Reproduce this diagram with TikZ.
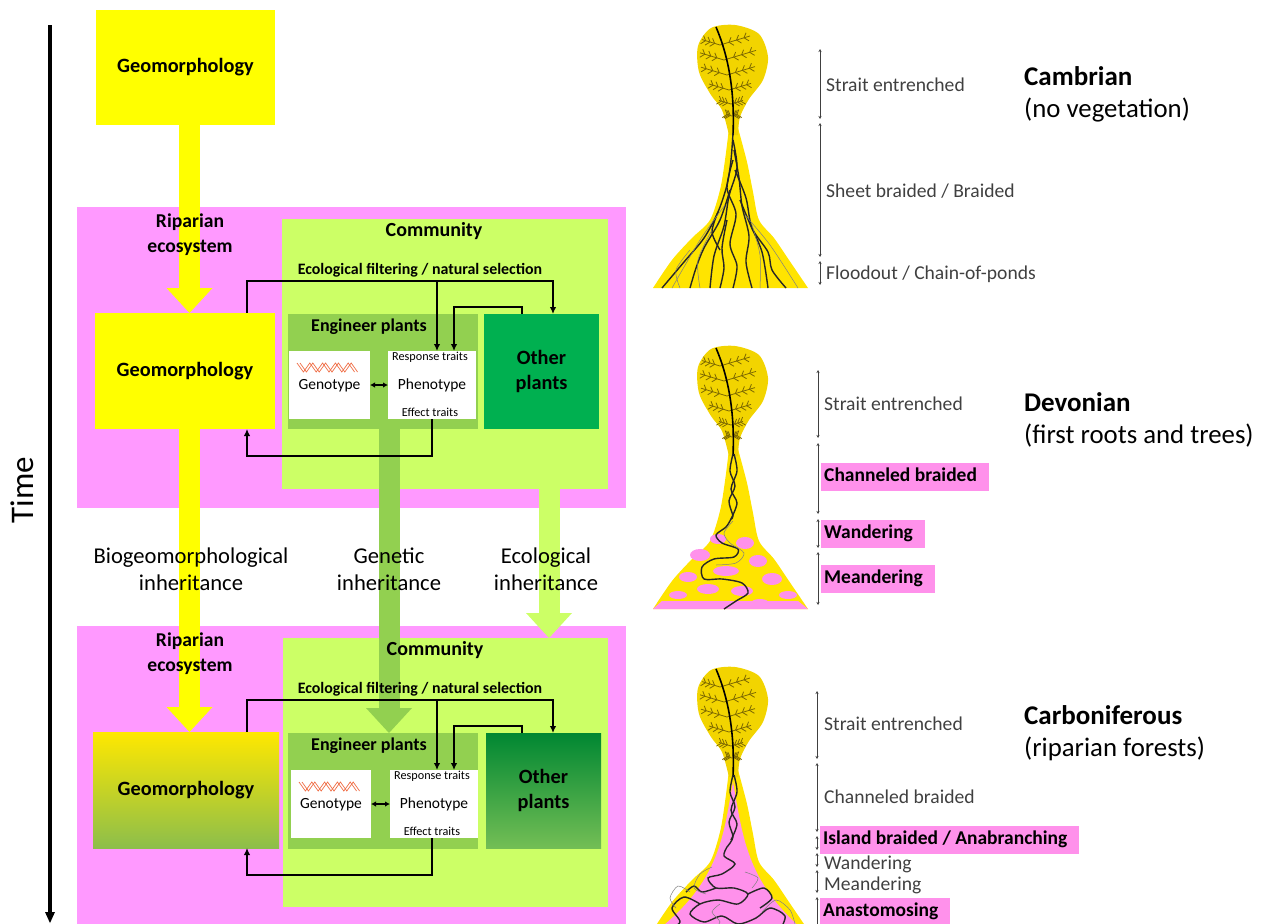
\documentclass[tikz,border=0pt]{standalone}
\usepackage{fontspec}
\setmainfont{Carlito}
\usetikzlibrary{arrows.meta,calc}

\definecolor{geoyel}{RGB}{255,255,0}
\definecolor{ripink}{RGB}{255,153,255}
\definecolor{comgrn}{RGB}{204,255,102}
\definecolor{enggrn}{RGB}{146,208,80}
\definecolor{othgrn}{RGB}{0,176,80}
\definecolor{hlpink}{RGB}{255,145,235}
\definecolor{fanyel}{RGB}{255,228,0}
\definecolor{headyel}{RGB}{242,212,0}
\definecolor{frondc}{RGB}{125,105,0}
\definecolor{txtgray}{RGB}{64,64,64}
\definecolor{dnac}{RGB}{240,110,70}
\definecolor{geotop}{RGB}{255,232,0}
\definecolor{geomid}{RGB}{200,212,0}
\definecolor{geobot}{RGB}{140,190,75}
\definecolor{othtop}{RGB}{0,135,50}
\definecolor{othmid}{RGB}{0,172,72}
\definecolor{othbot}{RGB}{115,190,85}

\pgfdeclarelayer{bg}
\pgfdeclarelayer{arr}
\pgfsetlayers{bg,arr,main}

\begin{document}
\begin{tikzpicture}[x=1pt,y=-1pt,
    box/.style={inner sep=0pt,outer sep=0pt},
    bigb/.style={font=\fontsize{20.3}{25}\selectfont\bfseries,align=center},
    midb/.style={font=\fontsize{19.6}{25}\selectfont\bfseries,align=center},
    selb/.style={font=\fontsize{15.9}{18}\selectfont\bfseries},
    gp/.style={box,fill=white},
    gpt/.style={font=\fontsize{15.5}{18}\selectfont},
    trait/.style={font=\fontsize{12.2}{14}\selectfont},
    inh/.style={font=\fontsize{22.6}{27}\selectfont,align=center},
    conn/.style={line width=1.8pt,-{Latex[length=7pt,width=6.5pt]}},
    fat/.style={line width=21pt,draw=#1,-{Triangle[length=25pt,width=46pt,line width=0pt]}},
    rlab/.style={anchor=base west,text=txtgray,font=\fontsize{19.6}{22}\selectfont,inner sep=0pt},
    hl/.style={anchor=west,fill=hlpink,inner xsep=3pt,inner ysep=0pt,minimum height=28pt,text height=12.5pt,text depth=3.5pt,font=\fontsize{19.5}{22}\selectfont\bfseries,execute at end node=\hspace*{9pt}},
    era/.style={anchor=base west,inner sep=0pt,font=\fontsize{27}{32}\selectfont\bfseries},
    erasub/.style={anchor=base west,inner sep=0pt,font=\fontsize{26.8}{32}\selectfont},
    sbar/.style={draw=txtgray,line width=0.9pt,{Stealth[length=3pt,width=3pt]}-{Stealth[length=3pt,width=3pt]}},
    riv/.style={line width=1.4pt,black!85},
    rivthin/.style={line width=0.5pt,black!50},
    frd/.style={line width=0.8pt,frondc},
    dna/.style={line width=0.7pt,dnac}]
\useasboundingbox (0,0) rectangle (1262,924);

% time axis
\draw[line width=3.5pt,-{Triangle[length=11pt,width=10pt,line width=0pt]}] (50,25) -- (50,923);
\node[rotate=90,font=\fontsize{33}{36}\selectfont] (time) at (22,490) {Time};

% ecosystems and communities
\begin{pgfonlayer}{bg}
\node[box,fill=ripink,minimum width=549pt,minimum height=301pt] (rip1) at (351.5,357.5) {};
\node[box,fill=comgrn,minimum width=326pt,minimum height=270pt] (com1) at (445,354) {};
\node[box,fill=ripink,minimum width=549pt,minimum height=300pt] (rip2) at (351.5,776) {};
\node[box,fill=comgrn,minimum width=325pt,minimum height=269pt] (com2) at (445.5,772.5) {};
\end{pgfonlayer}

\node[box,bigb,fill=geoyel,minimum width=179pt,minimum height=115pt] (geo0) at (185.5,67.5) {Geomorphology};

% first ecosystem
\node[box,bigb,fill=geoyel,minimum width=180pt,minimum height=116pt] (geo1) at (185,371) {Geomorphology};
\node[box,fill=enggrn,minimum width=190pt,minimum height=115pt] (eng1) at (383,371.5) {};
\node[box,bigb,fill=othgrn,minimum width=115pt,minimum height=115pt] (oth1) at (541.5,371.5) {Other\\plants};
\node[gp,minimum width=81pt,minimum height=68pt] (gen1) at (329.5,385) {};
\node[gp,minimum width=88pt,minimum height=68pt] (phe1) at (432,385) {};
\node[midb] (rt1) at (190,235) {Riparian\\ecosystem};
\node[midb,anchor=base,font=\fontsize{20}{25}\selectfont\bfseries] (ct1) at (434,236) {Community};
\node[selb,anchor=base] (ft1) at (420,274.5) {Ecological filtering / natural selection};
\node[midb,anchor=base,font=\fontsize{18}{22}\selectfont\bfseries] (et1) at (369,331) {Engineer plants};
\node[trait,anchor=base] (rs1) at (430,360.5) {Response traits};
\node[gpt,anchor=base] (pt1) at (432,389) {Phenotype};
\node[trait,anchor=base] (ef1) at (430,416.5) {Effect traits};
\node[gpt,anchor=base] (gt1) at (329.5,389) {Genotype};
\draw[dna] (297,363) \foreach \i in {1,...,9}{ -- ({297+6.4*\i},{363+9*mod(\i,2)}) };
\draw[dna] (300,363) \foreach \i in {1,...,9}{ -- ({300+6.4*\i},{363+9*mod(\i,2)}) };

% second ecosystem
\node[box,bigb,top color=geotop,middle color=geomid,bottom color=geobot,minimum width=186pt,minimum height=116pt] (geo2) at (186,790) {Geomorphology};
\node[box,fill=enggrn,minimum width=190pt,minimum height=116pt] (eng2) at (383,791) {};
\node[box,bigb,top color=othtop,middle color=othmid,bottom color=othbot,minimum width=115pt,minimum height=115pt] (oth2) at (543.5,790.5) {Other\\plants};
\node[gp,minimum width=80pt,minimum height=68pt] (gen2) at (331,804) {};
\node[gp,minimum width=88pt,minimum height=68pt] (phe2) at (434,804) {};
\node[midb] (rt2) at (190,654) {Riparian\\ecosystem};
\node[midb,anchor=base,font=\fontsize{20}{25}\selectfont\bfseries] (ct2) at (435,655) {Community};
\node[selb,anchor=base] (ft2) at (420,693.5) {Ecological filtering / natural selection};
\node[midb,anchor=base,font=\fontsize{18}{22}\selectfont\bfseries] (et2) at (369,750) {Engineer plants};
\node[trait,anchor=base] (rs2) at (432,779.5) {Response traits};
\node[gpt,anchor=base] (pt2) at (434,808) {Phenotype};
\node[trait,anchor=base] (ef2) at (432,835.5) {Effect traits};
\node[gpt,anchor=base] (gt2) at (331,808) {Genotype};
\draw[dna] (299,782) \foreach \i in {1,...,9}{ -- ({299+6.4*\i},{782+9*mod(\i,2)}) };
\draw[dna] (302,782) \foreach \i in {1,...,9}{ -- ({302+6.4*\i},{782+9*mod(\i,2)}) };

% inheritance
\coordinate (ybar) at (189.5,0);
\coordinate (gbar) at (389,0);
\coordinate (ebar) at (549,0);
\begin{pgfonlayer}{arr}
\draw[fat=geoyel] (geo0.south -| ybar) -- (geo1.north -| ybar);
\draw[fat=geoyel] (geo1.south -| ybar) -- (geo2.north -| ybar);
\draw[fat=enggrn] (eng1.south -| gbar) -- (eng2.north -| gbar);
\draw[fat=comgrn] (com1.south -| ebar) -- (com2.north -| ebar);
\end{pgfonlayer}
\node[inh] (bio) at (191,569) {Biogeomorphological\\inheritance};
\node[inh] (gin) at (389,569) {Genetic\\inheritance};
\node[inh] (ein) at (546,569) {Ecological\\inheritance};

% feedback loops
\coordinate (a1) at (247,281); \coordinate (b1) at (553,281); \coordinate (c1) at (437,281);
\coordinate (d1) at (522,307); \coordinate (e1) at (454,307);
\coordinate (f1) at (432,456); \coordinate (g1) at (247,456);
\draw[conn] (geo1.north -| a1) -- (a1) -- (b1) -- (oth1.north -| b1);
\draw[conn] (c1) -- (phe1.north -| c1);
\draw[conn] (oth1.north -| d1) -- (d1) -- (e1) -- (phe1.north -| e1);
\draw[conn] (phe1.south -| f1) -- (f1) -- (g1) -- (geo1.south -| g1);
\draw[line width=1.8pt,{Latex[length=5pt,width=5.5pt]}-{Latex[length=5pt,width=5.5pt]}] (gen1) -- (phe1);

\coordinate (a2) at (247,700); \coordinate (b2) at (553,700); \coordinate (c2) at (437,700);
\coordinate (d2) at (522,726); \coordinate (e2) at (454,726);
\coordinate (f2) at (432,875); \coordinate (g2) at (247,875);
\draw[conn] (geo2.north -| a2) -- (a2) -- (b2) -- (oth2.north -| b2);
\draw[conn] (c2) -- (phe2.north -| c2);
\draw[conn] (oth2.north -| d2) -- (d2) -- (e2) -- (phe2.north -| e2);
\draw[conn] (phe2.south -| f2) -- (f2) -- (g2) -- (geo2.south -| g2);
\draw[line width=1.8pt,{Latex[length=5pt,width=5.5pt]}-{Latex[length=5pt,width=5.5pt]}] (gen2) -- (phe2);

% river profiles
\foreach \dy in {0,321,642}{
  \begin{scope}[yshift=-\dy pt]
    \fill[fanyel] plot[smooth] coordinates {(729,128) (725,160) (720,190) (710,220) (692,238) (672,260) (653,288)} -- (808,288) -- plot[smooth] coordinates {(808,288) (789,260) (774,238) (759,220) (753,192) (747,162) (738,128)} -- cycle;
    \fill[headyel] plot[smooth] coordinates {(729,135) (722,110) (711,95) (699,72) (698,46) (711,28) (735,25) (759,34) (768,57) (763,80) (749,99) (740,117) (738,135)} -- cycle;
    \foreach \yy/\tx/\ll/\rr in {45/720/18/30,60/724/24/32,75/727/26/28,90/729/20/22,104/731/12/12,116/732/6/6}{
      \draw[frd] (\tx,\yy) -- ++(-\ll,{-0.3*\ll}) (\tx,\yy) -- ++(\rr,{-0.3*\rr});
      \foreach \t in {0.3,0.55,0.8}{
        \draw[frd] ({\tx-\t*\ll},{\yy-0.3*\t*\ll}) -- ++(-2,-5) ({\tx-\t*\ll},{\yy-0.3*\t*\ll}) -- ++(-5,3);
        \draw[frd] ({\tx+\t*\rr},{\yy-0.3*\t*\rr}) -- ++(2,-5) ({\tx+\t*\rr},{\yy-0.3*\t*\rr}) -- ++(5,3);
      }
    }
    \draw[line width=1.6pt] (716,27) .. controls (728,55) and (735,90) .. (733,135);
  \end{scope}
}

% Cambrian: braided
\draw[riv] plot[smooth] coordinates {(733,133) (731,160) (727,185) (718,212) (704,238) (684,262) (662,288)};
\draw[riv] plot[smooth] coordinates {(733,140) (737,168) (729,196) (724,226) (714,256) (710,288)};
\draw[riv] plot[smooth] coordinates {(734,150) (739,178) (742,206) (749,236) (746,262) (752,288)};
\draw[riv] plot[smooth] coordinates {(733,160) (727,188) (736,214) (730,244) (737,266) (733,288)};
\draw[riv] plot[smooth] coordinates {(735,170) (746,198) (752,228) (768,252) (772,270) (786,288)};
\draw[riv] plot[smooth] coordinates {(730,190) (720,220) (704,248) (696,268) (690,288)};
\draw[riv] plot[smooth] coordinates {(740,200) (750,224) (762,252) (768,288)};
\draw[riv] plot[smooth] coordinates {(727,220) (722,248) (724,268) (720,288)};
\draw[riv] plot[smooth] coordinates {(718,212) (712,232) (720,250)};
\draw[rivthin] plot[smooth] coordinates {(725,205) (700,240) (672,288)};
\draw[rivthin] plot[smooth] coordinates {(745,215) (770,245) (798,288)};
\draw[rivthin] plot[smooth] coordinates {(712,230) (698,260) (700,288)};
\draw[rivthin] plot[smooth] coordinates {(752,225) (760,255) (760,288)};
\draw[rivthin] plot[smooth] coordinates {(690,250) (676,270) (680,288)};

% Devonian: braided to meandering
\begin{scope}[yshift=-321pt]
  \fill[hlpink] (662,280) -- (798,280) -- (808,288) -- (653,288) -- cycle;
  \foreach \ex/\ey/\ea/\eb in {718/218/8/5,745/222/9/6,700/234/10/6,758/240/9/6,726/250/13/5,688/256/9/5,772/258/10/6,708/268/11/5,742/270/11/5,678/274/9/4,788/274/9/4,760/282/9/4}{
    \fill[hlpink] (\ex,\ey) ellipse (\ea pt and \eb pt);
  }
  \draw[riv] plot[smooth] coordinates {(733,133) (730,150) (735,165) (729,180) (733,195) (731,198)};
  \draw[riv] plot[smooth] coordinates {(734,133) (737,150) (731,168) (737,182) (731,198)};
  \draw[riv] plot[smooth] coordinates {(731,198) (726,206) (716,214) (722,222) (738,228) (734,236) (714,238) (702,246) (704,258) (722,258) (742,262) (748,272) (736,280) (724,288)};
  \draw[rivthin] plot[smooth] coordinates {(733,200) (724,212) (730,222) (744,232) (736,242) (716,244)};
\end{scope}

% Carboniferous: anastomosing
\begin{scope}[yshift=-642pt]
  \fill[hlpink] (733,140) .. controls (743,195) and (746,238) .. (803,288) -- (658,288) .. controls (720,238) and (723,195) .. (733,140) -- cycle;
  \draw[riv] plot[smooth] coordinates {(733,133) (730,150) (735,165) (729,180) (733,195) (727,205)};
  \draw[riv] plot[smooth] coordinates {(734,133) (737,150) (731,168) (737,182) (731,198)};
  \draw[riv] plot[smooth] coordinates {(727,205) (724,214) (735,222) (722,232) (708,236) (716,246) (734,246) (748,252) (738,262) (718,258) (700,262) (690,272) (704,280) (722,274) (738,282) (756,276) (770,266) (785,274) (780,288)};
  \draw[riv] plot[smooth] coordinates {(700,262) (684,255) (672,266) (680,280) (668,288)};
  \draw[riv] plot[smooth] coordinates {(748,252) (764,246) (772,256) (760,266)};
  \draw[riv] plot[smooth] coordinates {(716,246) (702,250) (694,244) (686,250)};
  \draw[riv] plot[smooth] coordinates {(738,282) (730,288)};
  \draw[rivthin] plot[smooth] coordinates {(712,225) (700,232) (694,246) (706,252)};
  \draw[rivthin] plot[smooth] coordinates {(745,230) (758,236) (752,246)};
  \draw[rivthin] plot[smooth] coordinates {(690,250) (678,244) (670,256) (676,266)};
  \draw[rivthin] plot[smooth] coordinates {(762,270) (776,258) (790,268) (795,282)};
  \draw[rivthin] plot[smooth] coordinates {(720,262) (712,270) (720,280) (712,288)};
\end{scope}

% Cambrian labels
\draw[sbar] (820,49) -- (820,119);
\draw[sbar] (820,123) -- (820,257);
\draw[sbar] (820,261) -- (820,285);
\node[rlab] (cs1) at (826,91.5) {Strait entrenched};
\node[rlab] (cs2) at (826,197.5) {Sheet braided / Braided};
\node[rlab] (cs3) at (826,279.5) {Floodout / Chain-of-ponds};
\node[era] (camb) at (1024,85) {Cambrian};
\node[erasub] (cambs) at (1024,117) {(no vegetation)};

% Devonian labels
\draw[sbar] (818,370) -- (818,438);
\draw[sbar] (818,443) -- (818,514);
\draw[sbar] (818,519) -- (818,548);
\draw[sbar] (818,552) -- (818,605);
\node[rlab] (ds1) at (824,410.5) {Strait entrenched};
\node[hl] (ds2) at (821,477) {Channeled braided};
\node[hl] (ds3) at (821,534) {Wandering};
\node[hl] (ds4) at (821,579) {Meandering};
\node[era] (dev) at (1024,411) {Devonian};
\node[erasub] (devs) at (1024,443) {(first roots and trees)};

% Carboniferous labels
\draw[sbar] (817,691) -- (817,759);
\draw[sbar] (817,763) -- (817,832);
\draw[sbar] (817,836) -- (817,850);
\draw[sbar] (817,853) -- (817,867);
\draw[sbar] (817,870) -- (817,893);
\draw[sbar] (817,897) -- (817,930);
\node[rlab] (ks1) at (824,730.5) {Strait entrenched};
\node[rlab] (ks2) at (824,803.5) {Channeled braided};
\node[hl] (ks3) at (820,840) {Island braided / Anabranching};
\node[rlab] (ks4) at (824,869.5) {Wandering};
\node[rlab] (ks5) at (824,890.5) {Meandering};
\node[hl] (ks6) at (820,912) {Anastomosing};
\node[era] (carb) at (1024,724) {Carboniferous};
\node[erasub] (carbs) at (1024,756) {(riparian forests)};
\end{tikzpicture}
\end{document}
